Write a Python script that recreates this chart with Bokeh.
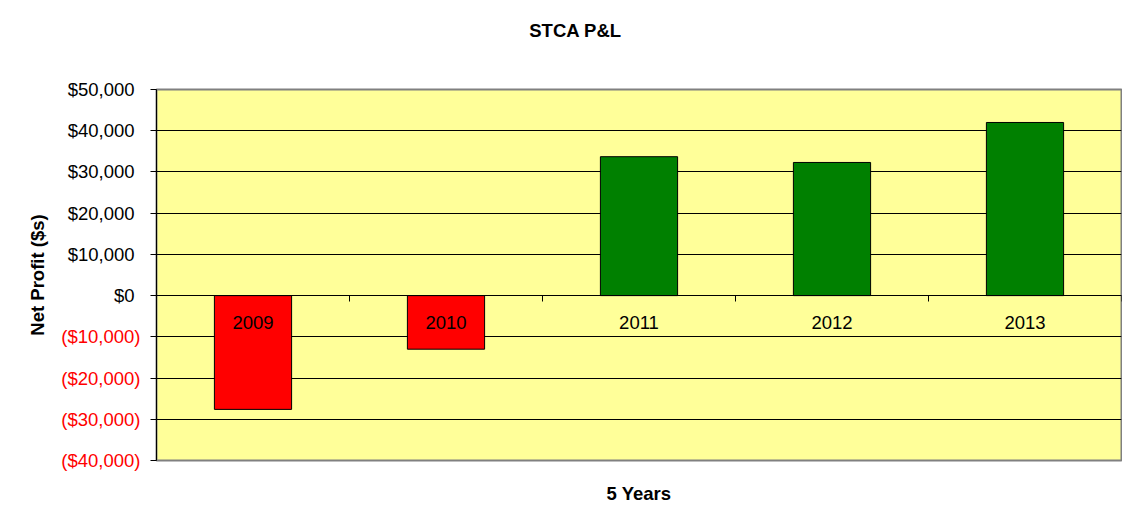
from bokeh.plotting import figure
from bokeh.models import (ColumnDataSource, Range1d, LinearAxis, FixedTicker, Grid,
                          CustomJSTickFormatter)
from bokeh.embed import file_html
from bokeh.resources import INLINE

# ---- data ----
title_text = "STCA P&L"
x_title = "5 Years"
y_title = "Net Profit ($s)"
years = ["2009", "2010", "2011", "2012", "2013"]
net_profit = [-27600, -13000, 33700, 32300, 42000]
y_ticks = [-40000, -30000, -20000, -10000, 0, 10000, 20000, 30000, 40000, 50000]
y_tick_labels = ["($40,000)", "($30,000)", "($20,000)", "($10,000)", "$0",
                 "$10,000", "$20,000", "$30,000", "$40,000", "$50,000"]

# ---- style ----
FONT = "Liberation Sans"
FS = "18.5px"
TITLE_X = 2.171   # horizontal anchor of the chart title (x units)

p = figure(width=1122, height=513, output_backend="svg", toolbar_location=None,
           x_range=Range1d(0, len(years)), y_range=Range1d(y_ticks[0], y_ticks[-1]),
           x_axis_type=None, y_axis_type=None, title=None,
           min_border_left=156, min_border_right=1, min_border_top=89, min_border_bottom=53,
           background_fill_color="#FFFF99", border_fill_color="white",
           outline_line_color="#808080", outline_line_width=2)

# grid lines
p.add_layout(Grid(dimension=1, ticker=FixedTicker(ticks=y_ticks[1:-1]),
                  grid_line_color="black", grid_line_width=1))

# bars
pos = [i + 0.5 for i in range(len(years))]
colors = ["#FF0000" if v < 0 else "#008000" for v in net_profit]
src = ColumnDataSource(dict(x=pos, top=net_profit, color=colors))
p.vbar(x="x", top="top", bottom=0, width=0.4, fill_color="color",
       line_color="black", line_width=1, source=src)

label_code = """
const i = vals.indexOf(Math.round(tick));
if (i < 0) return '';
return labs[i];
"""
neg_ticks = [v for v in y_ticks if v < 0]
pos_labels = [lab if v >= 0 else "" for v, lab in zip(y_ticks, y_tick_labels)]
neg_labels = [lab if v < 0 else "" for v, lab in zip(y_ticks, y_tick_labels)]

# main y axis: all ticks, black labels for values >= 0 (adjacent to the frame)
yaxis_pos = LinearAxis(ticker=FixedTicker(ticks=y_ticks),
                       formatter=CustomJSTickFormatter(args=dict(vals=y_ticks, labs=pos_labels),
                                                       code=label_code),
                       major_tick_out=6, major_tick_in=0, minor_tick_out=0, minor_tick_in=0,
                       axis_line_color="black", major_tick_line_color="black",
                       major_label_standoff=16, major_label_text_font=FONT,
                       major_label_text_font_size=FS, major_label_text_color="black")
p.add_layout(yaxis_pos, "left")

# second y axis: red labels for negative values, pulled back under the main one
yaxis_neg = LinearAxis(ticker=FixedTicker(ticks=neg_ticks),
                       formatter=CustomJSTickFormatter(args=dict(vals=y_ticks, labs=neg_labels),
                                                       code=label_code),
                       major_tick_out=0, major_tick_in=0, minor_tick_out=0, minor_tick_in=0,
                       axis_line_color=None, major_tick_line_color=None,
                       major_label_standoff=-76, major_label_text_font=FONT,
                       major_label_text_font_size=FS, major_label_text_color="#FF0000")
p.add_layout(yaxis_neg, "left")

# y-axis title
ylab_axis = LinearAxis(ticker=FixedTicker(ticks=[]), axis_line_color=None,
                       major_tick_out=0, major_tick_in=0, minor_tick_out=0, minor_tick_in=0,
                       axis_label=y_title, axis_label_standoff=11,
                       axis_label_text_font=FONT, axis_label_text_font_size=FS,
                       axis_label_text_font_style="bold", axis_label_text_color="black")
p.add_layout(ylab_axis, "left")

# category axis on the zero line
xaxis = LinearAxis(fixed_location=0,
                   ticker=FixedTicker(ticks=pos, minor_ticks=list(range(len(years) + 1))),
                   formatter=CustomJSTickFormatter(args=dict(cats=years),
                                                   code="return cats[Math.floor(tick)];"),
                   major_tick_out=0, major_tick_in=0, minor_tick_out=6, minor_tick_in=0,
                   axis_line_color="black", minor_tick_line_color="black",
                   major_label_standoff=14, major_label_text_font=FONT,
                   major_label_text_font_size=FS, major_label_text_color="black")
p.add_layout(xaxis, "below")

# x-axis title
xlab_axis = LinearAxis(ticker=FixedTicker(ticks=[]), axis_line_color=None,
                       major_tick_out=0, major_tick_in=0, minor_tick_out=0, minor_tick_in=0,
                       axis_label=x_title, axis_label_standoff=22,
                       axis_label_text_font=FONT, axis_label_text_font_size=FS,
                       axis_label_text_font_style="bold", axis_label_text_color="black")
p.add_layout(xlab_axis, "below")

# chart title (single labelled tick on an axis above the plot)
title_axis = LinearAxis(ticker=FixedTicker(ticks=[TITLE_X]),
                        formatter=CustomJSTickFormatter(args=dict(t=title_text), code="return t;"),
                        major_tick_out=0, major_tick_in=0, minor_tick_out=0, minor_tick_in=0,
                        axis_line_color=None, major_tick_line_color=None,
                        major_label_standoff=49, major_label_text_font=FONT,
                        major_label_text_font_size=FS, major_label_text_font_style="bold",
                        major_label_text_color="black")
p.add_layout(title_axis, "above")

open("out.html", "w").write(file_html(p, INLINE))
